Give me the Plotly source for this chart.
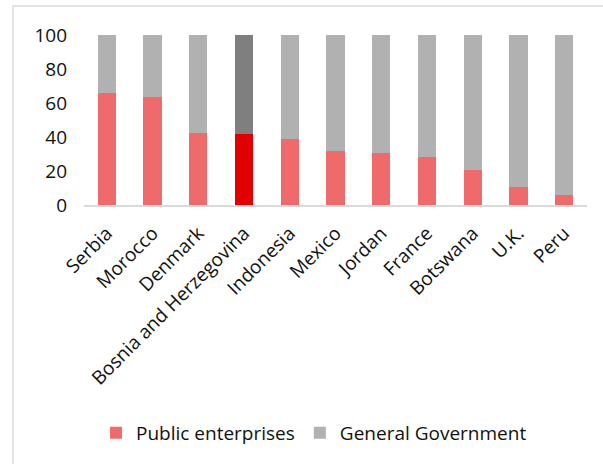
import plotly.graph_objects as go

countries = ["Serbia", "Morocco", "Denmark", "Bosnia and Herzegovina", "Indonesia",
             "Mexico", "Jordan", "France", "Botswana", "U.K.", "Peru"]
public_enterprises = [66, 63.7, 42.3, 41.8, 38.8, 31.8, 30.6, 28.4, 20.6, 10.4, 5.9]
general_government = [round(100 - v, 1) for v in public_enterprises]

red = "#EF6B6B"
gray = "#B1B1B1"
red_hi = "#E00000"
gray_hi = "#7F7F7F"
highlight = "Bosnia and Herzegovina"

red_colors = [red_hi if c == highlight else red for c in countries]
gray_colors = [gray_hi if c == highlight else gray for c in countries]

fig = go.Figure()
fig.add_trace(go.Bar(x=countries, y=public_enterprises, name="Public enterprises",
                     marker=dict(color=red_colors, line=dict(width=0))))
fig.add_trace(go.Bar(x=countries, y=general_government, name="General Government",
                     marker=dict(color=gray_colors, line=dict(width=0))))

fig.update_layout(
    barmode="stack",
    bargap=0.6,
    width=603, height=464,
    margin=dict(l=84, r=16, t=35, b=259),
    paper_bgcolor="white", plot_bgcolor="white",
    font=dict(family="Open Sans, Noto Sans, sans-serif", size=19, color="#111111"),
    showlegend=True,
    legend=dict(orientation="h", x=(96 - 84) / 503, xanchor="left", y=-1.34, yanchor="middle",
                font=dict(size=19), itemsizing="constant", traceorder="normal",
                itemwidth=30),
    xaxis=dict(showline=True, linecolor="#D9D9D9", linewidth=1.5, ticks="",
               tickangle=-45, showgrid=False, fixedrange=True,
               tickfont=dict(size=19), ticklabelstandoff=8),
    yaxis=dict(range=[0, 100], tickvals=[0, 20, 40, 60, 80, 100], showgrid=False,
               zeroline=False, showline=False, ticks="", tickfont=dict(size=19),
               ticklabelstandoff=16),
    shapes=[dict(type="rect", xref="paper", yref="paper",
                 x0=(13 - 84) / 503, x1=(620 - 84) / 503,
                 y0=(205 - 480) / 170, y1=(205 - 6) / 170,
                 line=dict(color="#D9D9D9", width=1.5), fillcolor="rgba(0,0,0,0)",
                 layer="below")],
)

fig.write_html("out.html")
